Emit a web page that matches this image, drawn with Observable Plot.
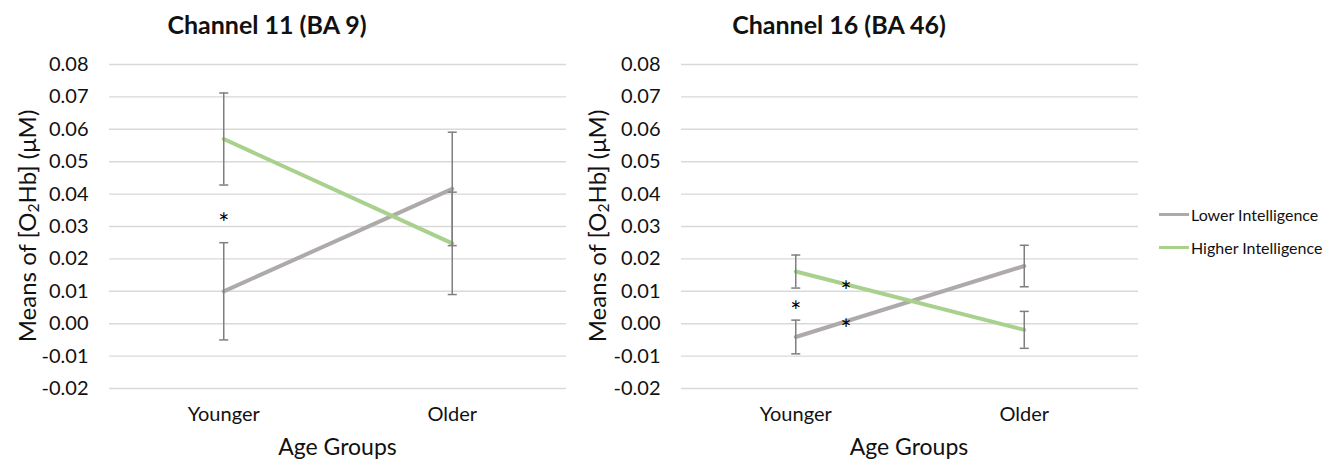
<!DOCTYPE html>
<html>
<head>
<meta charset="utf-8">
<script src="https://cdn.jsdelivr.net/npm/d3@7"></script>
<script src="https://cdn.jsdelivr.net/npm/@observablehq/plot@0.6"></script>
<style>
  html, body { margin: 0; padding: 0; background: #fff; }
  #wrap { position: relative; width: 1344px; height: 469px; font-family: Lato, "Open Sans", sans-serif; color: #111; overflow: hidden; }
  .panel { position: absolute; top: 0; }
  .title { position: absolute; font-weight: bold; font-size: 25px; transform: translateX(-50%); white-space: nowrap; top: 9px; }
  .ylab { position: absolute; font-size: 24px; white-space: nowrap; transform: translate(-50%, -50%) rotate(-90deg); }
  .xlab { position: absolute; font-size: 23px; white-space: nowrap; transform: translateX(-50%); top: 432px; }
  .legend { position: absolute; left: 1159px; font-size: 16px; white-space: nowrap; display: flex; align-items: center; }
  .legend .sw { display: inline-block; width: 30px; height: 3px; margin-right: 2px; }
  sub { font-size: 0.65em; vertical-align: -0.25em; }
</style>
</head>
<body>
<div id="wrap"></div>
<script>
// ---- data ----
const categories = ["Younger", "Older"];
const seriesNames = ["Lower Intelligence", "Higher Intelligence"];
const seriesColors = ["#AEAAAA", "#A9D18E"];
const yTicks = [-0.02, -0.01, 0.00, 0.01, 0.02, 0.03, 0.04, 0.05, 0.06, 0.07, 0.08];

const ch11Title = "Channel 11 (BA 9)";
const ch11Lower = [0.0100, 0.0416];
const ch11LowerErr = [0.0150, 0.0175];
const ch11Higher = [0.0570, 0.0248];
const ch11HigherErr = [0.0142, 0.0158];
const ch11StarPos = [0];
const ch11StarVal = [0.0326];

const ch16Title = "Channel 16 (BA 46)";
const ch16Lower = [-0.0041, 0.0178];
const ch16LowerErr = [0.0052, 0.0064];
const ch16Higher = [0.0161, -0.0019];
const ch16HigherErr = [0.0051, 0.0057];
const ch16StarPos = [0, 0.22, 0.22];
const ch16StarVal = [0.0055, 0.0118, 0.0001];

// ---- helpers ----
const capSymbol = {
  draw(ctx, size) {
    const r = Math.sqrt(size / Math.PI);
    ctx.moveTo(-r, 0);
    ctx.lineTo(r, 0);
  }
};

function rows(lower, lowerErr, higher, higherErr) {
  const out = [];
  categories.forEach((c, i) => out.push({series: seriesNames[0], pos: i, value: lower[i], err: lowerErr[i]}));
  categories.forEach((c, i) => out.push({series: seriesNames[1], pos: i, value: higher[i], err: higherErr[i]}));
  return out;
}

function panel(data, starPos, starVal, width, ml, mr) {
  const stars = starPos.map((p, i) => ({pos: p, value: starVal[i]}));
  const errColor = "#7f7f7f";
  return Plot.plot({
    width, height: 469,
    marginLeft: ml, marginRight: mr, marginTop: 64, marginBottom: 81,
    style: {fontFamily: "Lato, sans-serif", fontSize: "20px", color: "#111", background: "transparent"},
    x: {domain: [-0.5, 1.5], ticks: [0, 1], tickFormat: i => categories[i], tickSize: 0, tickPadding: 18, label: null},
    y: {domain: [-0.02, 0.08], ticks: yTicks, tickFormat: d => d.toFixed(2), tickSize: 0, tickPadding: 21, label: null},
    color: {domain: seriesNames, range: seriesColors},
    marks: [
      Plot.gridY(yTicks, {stroke: "#d9d9d9", strokeOpacity: 1, strokeWidth: 1.4}),
      Plot.line(data, {x: "pos", y: "value", z: "series", stroke: "series", strokeWidth: 4, strokeLinecap: "round"}),
      Plot.ruleX(data, {x: "pos", y1: d => d.value - d.err, y2: d => d.value + d.err, stroke: errColor, strokeWidth: 1.5}),
      Plot.dot(data, {x: "pos", y: d => d.value + d.err, symbol: capSymbol, r: 4.5, stroke: errColor, fill: "none", strokeWidth: 1.5}),
      Plot.dot(data, {x: "pos", y: d => d.value - d.err, symbol: capSymbol, r: 4.5, stroke: errColor, fill: "none", strokeWidth: 1.5}),
      Plot.text(stars, {x: "pos", y: "value", text: () => "*", fontSize: 26, dy: 7, fill: "#000"})
    ]
  });
}

const wrap = document.getElementById("wrap");

function addPanel(svg, left) {
  const d = document.createElement("div");
  d.className = "panel";
  d.style.left = left + "px";
  d.appendChild(svg);
  wrap.appendChild(d);
}

addPanel(panel(rows(ch11Lower, ch11LowerErr, ch11Higher, ch11HigherErr), ch11StarPos, ch11StarVal, 580, 109, 14), 0);
addPanel(panel(rows(ch16Lower, ch16LowerErr, ch16Higher, ch16HigherErr), ch16StarPos, ch16StarVal, 580, 101, 22), 580);

function addHTML(cls, html, styles) {
  const d = document.createElement("div");
  d.className = cls;
  d.innerHTML = html;
  Object.assign(d.style, styles);
  wrap.appendChild(d);
}

addHTML("title", ch11Title, {left: "267px"});
addHTML("title", ch16Title, {left: "839px"});
const ylabHTML = "Means of [O<sub>2</sub>Hb] (μM)";
addHTML("ylab", ylabHTML, {left: "27px", top: "226px"});
addHTML("ylab", ylabHTML, {left: "597px", top: "226px"});
addHTML("xlab", "Age Groups", {left: "337.5px"});
addHTML("xlab", "Age Groups", {left: "909px"});

seriesNames.forEach((name, i) => {
  addHTML("legend", `<span class="sw" style="background:${seriesColors[i]}"></span><span>${name}</span>`,
    {top: (205 + i * 33) + "px"});
});
</script>
</body>
</html>
